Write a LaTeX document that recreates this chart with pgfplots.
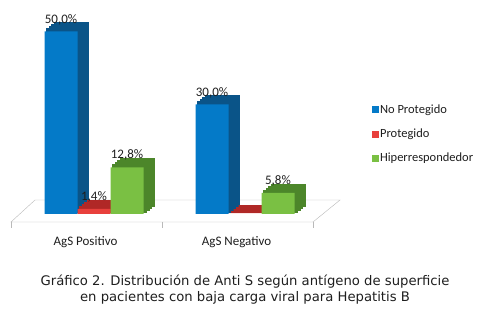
\documentclass[border=0pt]{standalone}
\usepackage{pgfplots}
\pgfplotsset{compat=1.18}
\usepackage{pgfplotstable}
\usepackage{fontspec}
\setmainfont{Carlito}
\newfontfamily\capfont{DejaVu Sans}
\definecolor{bFront}{RGB}{4,122,200}
\definecolor{bSide}{RGB}{10,84,136}
\definecolor{rFront}{RGB}{232,64,60}
\definecolor{rSide}{RGB}{176,40,38}
\definecolor{gFront}{RGB}{122,192,67}
\definecolor{gSide}{RGB}{76,134,42}
\definecolor{txt}{RGB}{30,30,30}
\pgfplotstableread{
x no pro hip
0 50.0 1.4 12.8
1 30.0 0.0 5.8
}\data
\begin{document}
\begin{tikzpicture}
\path[use as bounding box] (0,0) rectangle (497pt,323pt);
% floor
\draw[gray!55, fill=white] (11pt,101pt) -- (313pt,101pt) -- (340pt,123pt) -- (35pt,123pt) -- cycle;
\foreach \t in {11,162,313} \draw[gray!55] (\t pt,101pt) -- (\t pt,95pt);
\begin{axis}[
  at={(18.5pt,109pt)}, anchor=south west,
  scale only axis, width=302pt, height=200.75pt,
  xmin=-0.5, xmax=1.5, ymin=0, ymax=55,
  clip=false, axis line style={draw=none},
  /pgf/number format/assume math mode=true,
  ytick=\empty, xtick={0,1}, xticklabels={AgS Positivo, AgS Negativo},
  major tick length=0pt,
  xticklabel style={font=\fontsize{13}{15}\selectfont, text=txt, xshift=-8.5pt, yshift=-19pt},
  ybar, bar width=33pt,
  nodes near coords={\pgfmathfloatifflags{\pgfplotspointmeta}{0}{}{\pgfmathprintnumber[fixed,fixed zerofill,precision=1,use comma,assume math mode=true]{\pgfplotspointmeta}\%}},
  every node near coord/.append style={font=\fontsize{13}{15}\selectfont, text=txt, anchor=center, yshift=12pt},
  legend style={draw=none, fill=none, at={(1.17,0.55)}, anchor=north west,
    font=\fontsize{12.5}{14}\selectfont, row sep=12pt, inner sep=0pt,
    nodes={inner sep=1pt, text=txt}},
  legend cell align=left,
  legend image code/.code={\fill[#1] (0pt,-3.5pt) rectangle (7pt,3.5pt);},
]
% blue
\pgfplotsinvokeforeach{4,3,2,1}{
  \addplot[forget plot, fill=bSide, draw=bSide, line width=2pt, bar shift=-33pt, nodes near coords={}, xshift=#1*2.5pt, yshift=#1*2pt] table[x=x,y=no]{\data};
}
\addplot[fill=bFront, draw=none, bar shift=-33pt] table[x=x,y=no]{\data};
\addlegendentry{No Protegido}
% red
\pgfplotsinvokeforeach{4,3,2,1}{
  \addplot[forget plot, fill=rSide, draw=rSide, line width=2pt, bar shift=0pt, nodes near coords={}, xshift=#1*2.5pt, yshift=#1*2pt] table[x=x,y=pro]{\data};
}
\addplot[fill=rFront, draw=none, bar shift=0pt] table[x=x,y=pro]{\data};
\addlegendentry{Protegido}
% green
\pgfplotsinvokeforeach{4,3,2,1}{
  \addplot[forget plot, fill=gSide, draw=gSide, line width=2pt, bar shift=33pt, nodes near coords={}, xshift=#1*2.5pt, yshift=#1*2pt] table[x=x,y=hip]{\data};
}
\addplot[fill=gFront, draw=none, bar shift=33pt] table[x=x,y=hip]{\data};
\addlegendentry{Hiperrespondedor}
\end{axis}
\node[font=\capfont\fontsize{13.2}{15}\selectfont, text=txt] at (245pt,41pt) {Gráfico 2. Distribución de Anti S según antígeno de superficie};
\node[font=\capfont\fontsize{13.2}{15}\selectfont, text=txt] at (245pt,25pt) {en pacientes con baja carga viral para Hepatitis B};
\end{tikzpicture}
\end{document}
